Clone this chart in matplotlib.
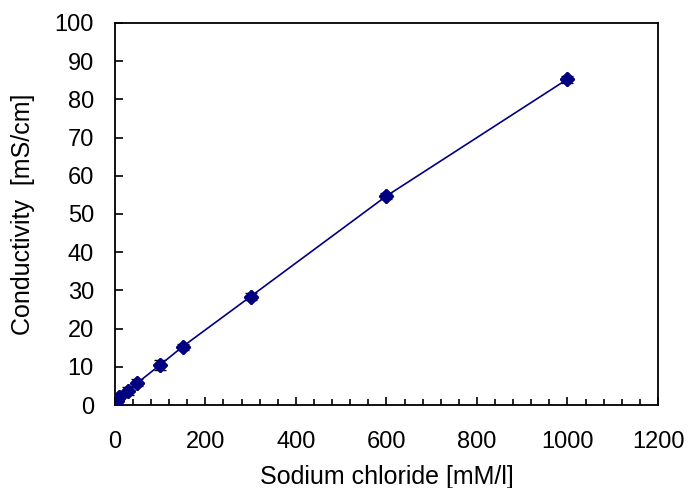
import matplotlib
matplotlib.use("Agg")
import matplotlib.pyplot as plt
from matplotlib.ticker import MultipleLocator

plt.rcParams['font.family'] = ['Liberation Sans', 'DejaVu Sans']

# NaCl concentration [mM/l] vs conductivity [mS/cm]
nacl = [0, 5, 10, 30, 50, 100, 150, 300, 600, 1000]
conductivity = [0.3, 1.0, 2.0, 3.6, 5.8, 10.5, 15.3, 28.4, 54.7, 85.3]
error = [0.3, 0.3, 0.4, 1.0, 0.9, 1.3, 0.8, 0.8, 0.8, 0.9]

fig = plt.figure(figsize=(7, 4.88), dpi=100)
ax = fig.add_axes([0.164, 0.17, 0.776, 0.783])

ax.errorbar(nacl, conductivity, yerr=error, color='#000080', marker='D',
            markersize=7.5, linewidth=1.2, ecolor='black', elinewidth=1,
            capsize=4, capthick=1, zorder=3)
ax.plot(nacl, conductivity, color='#000080', marker='D', markersize=7.5,
        linewidth=1.2, linestyle='none', zorder=4)

ax.set_xlim(0, 1200)
ax.set_ylim(0, 100)
ax.xaxis.set_major_locator(MultipleLocator(200))
ax.xaxis.set_minor_locator(MultipleLocator(40))
ax.yaxis.set_major_locator(MultipleLocator(10))
ax.tick_params(which='major', direction='in', length=6, width=1.2,
               labelsize=17)
ax.tick_params(which='minor', direction='in', length=4, width=1.2)
ax.tick_params(axis='x', pad=19)
ax.tick_params(axis='y', pad=15)

for s in ax.spines.values():
    s.set_linewidth(1.3)

ax.set_xlabel("Sodium chloride [mM/l]", fontsize=18, labelpad=8)
ax.set_ylabel("Conductivity  [mS/cm]", fontsize=18, labelpad=14)

fig.savefig("out.png", dpi=100)
